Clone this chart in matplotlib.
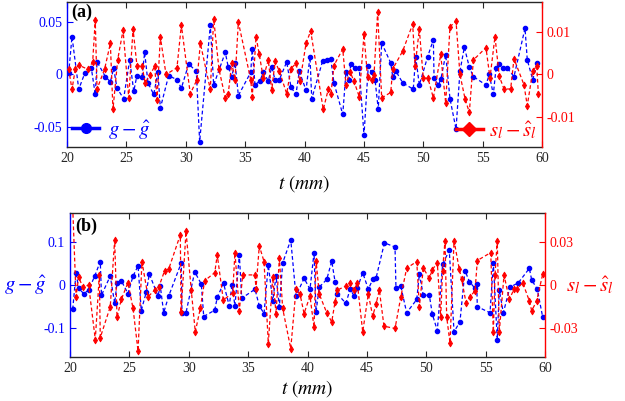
import matplotlib.pyplot as plt
from matplotlib.lines import Line2D

plt.rcParams['font.family'] = 'Liberation Serif'
plt.rcParams['mathtext.fontset'] = 'stix'

BLUE = '#0000ff'
RED = '#ff0000'

# ---- panel (a) : g - g_hat (left axis) ----
t_a_g = [20.14, 20.42, 20.99, 21.49, 22.05, 22.38, 22.53, 23.23, 23.65, 23.93,
         24.21, 24.77, 25.28, 25.62, 25.89, 26.32, 26.54, 26.82, 27.30, 27.66,
         27.86, 28.56, 29.26, 29.63, 30.25, 30.89, 31.17, 32.07, 32.35, 33.33,
         33.58, 33.87, 34.15, 34.43, 35.47, 35.60, 35.83, 36.25, 36.53, 36.95,
         37.24, 37.52, 37.88, 38.50, 38.86, 39.28, 39.56, 40.13, 40.46, 40.61,
         41.53, 41.87, 42.21, 42.48, 43.22, 43.49, 43.77, 43.89, 44.25, 44.61,
         45.01, 45.37, 45.66, 45.94, 46.21, 46.50, 47.26, 47.43, 47.71, 48.27,
         49.16, 49.36, 49.67, 50.37, 50.85, 50.91, 51.27, 51.49, 51.89, 52.25,
         52.76, 53.09, 53.46, 53.88, 54.22, 55.28, 55.56, 55.90, 56.13, 56.40,
         56.74, 57.08, 57.64, 58.57, 58.76, 59.22, 59.60]
g_a = [0.001, 0.036, -0.014, 0.001, 0.006, -0.019, 0.012, -0.002, -0.007, 0.006,
       -0.013, -0.023, 0.014, -0.016, -0.001, -0.002, 0.021, -0.008, -0.019, 0.002,
       -0.032, -0.001, -0.005, -0.013, 0.010, 0.003, -0.064, 0.047, -0.010, 0.021,
       0.007, -0.002, 0.011, -0.020, 0.002, 0.024, -0.010, -0.006, 0.002, -0.006,
       0.007, -0.005, -0.005, 0.012, -0.012, -0.019, 0.003, -0.015, 0.017, -0.023,
       0.013, 0.014, 0.015, -0.008, -0.038, 0.002, -0.005, 0.010, 0.006, 0.006,
       -0.058, 0.008, 0.002, -0.005, -0.033, 0.030, 0.011, -0.002, 0.003, -0.008,
       -0.014, 0.017, -0.010, 0.017, 0.033, -0.003, -0.010, -0.004, 0.019, -0.023,
       -0.052, 0.003, 0.026, 0.007, -0.002, -0.010, 0.000, -0.019, 0.006, 0.010,
       0.006, 0.006, -0.002, 0.044, 0.014, -0.005, 0.011]

# ---- panel (a) : s_l - s_l_hat (right axis) ----
t_a_s = [20.14, 20.42, 20.70, 20.99, 21.77, 22.16, 22.38, 22.53, 23.17, 23.65,
         23.87, 24.27, 24.72, 25.20, 25.56, 25.89, 26.32, 26.57, 26.99, 27.39,
         27.58, 27.86, 28.34, 29.26, 29.63, 30.38, 30.95, 31.23, 32.07, 32.35,
         32.80, 33.33, 33.58, 33.87, 34.15, 34.43, 35.47, 35.60, 35.92, 36.19,
         36.53, 36.95, 37.24, 37.52, 37.88, 38.50, 38.86, 39.28, 39.62, 40.13,
         40.52, 41.58, 42.00, 42.23, 42.48, 43.22, 43.49, 43.83, 44.17, 44.61,
         45.01, 45.31, 45.66, 45.85, 46.16, 46.50, 47.26, 47.43, 48.27, 49.11,
         49.31, 49.67, 50.00, 50.40, 50.85, 51.47, 51.89, 52.25, 52.76, 53.09,
         53.52, 53.88, 54.22, 55.28, 55.62, 56.04, 56.40, 56.80, 57.36, 57.64,
         58.48, 58.76, 59.22, 59.56, 59.69]
s_a = [0.0013, -0.0035, 0.0013, 0.0022, 0.0012, 0.0029, 0.0128, -0.0034, 0.0013, 0.0073,
       -0.0082, 0.0035, 0.0104, -0.0055, 0.0107, 0.0021, 0.0021, -0.0019, -0.0002, 0.0020,
       -0.0059, 0.0088, 0.0000, 0.0016, 0.0116, -0.0045, -0.0012, 0.0073, -0.0035, 0.0131,
       0.0012, -0.0055, -0.0045, 0.0027, -0.0012, 0.0123, -0.0012, -0.0052, 0.0089, 0.0047,
       -0.0008, 0.0034, -0.0037, 0.0031, 0.0008, -0.0045, 0.0014, 0.0026, -0.0016, 0.0073,
       0.0102, -0.0082, -0.0035, -0.0045, 0.0021, 0.0060, -0.0024, 0.0007, -0.0016, -0.0052,
       0.0094, -0.0007, -0.0012, -0.0002, 0.0146, -0.0055, -0.0042, 0.0013, 0.0055, 0.0118,
       0.0019, 0.0106, -0.0008, -0.0009, -0.0055, 0.0047, -0.0067, 0.0112, 0.0125, 0.0000,
       -0.0057, -0.0089, 0.0034, 0.0063, -0.0008, 0.0089, -0.0004, -0.0034, -0.0034, 0.0037,
       -0.0024, -0.0073, 0.0008, 0.0020, -0.0045]

# ---- panel (b) : g - g_hat ----
t_b_g = [20.23, 20.51, 20.73, 21.15, 21.57, 22.08, 22.55, 22.65, 23.39, 23.76,
         23.96, 24.32, 24.88, 25.31, 25.73, 26.00, 26.43, 26.68, 27.41, 27.60,
         27.89, 28.31, 29.37, 29.43, 29.77, 30.50, 31.06, 31.26, 32.19, 32.40,
         32.93, 33.41, 33.64, 33.89, 34.26, 34.46, 35.58, 35.94, 36.34, 36.70,
         37.07, 37.35, 37.63, 37.91, 38.59, 39.03, 39.71, 40.21, 40.55, 40.72,
         40.99, 41.62, 42.04, 42.32, 42.51, 43.24, 43.58, 43.94, 44.19, 44.65,
         45.12, 45.49, 45.77, 46.48, 47.37, 47.45, 47.85, 48.35, 49.20, 49.42,
         49.75, 50.26, 50.51, 50.93, 51.38, 51.94, 52.34, 52.84, 53.26, 53.63,
         54.11, 54.25, 54.30, 55.37, 55.65, 55.98, 56.15, 56.49, 57.05, 57.75,
         58.68, 58.88, 59.35, 59.81]
g_b = [-0.057, 0.029, -0.008, -0.020, -0.012, 0.021, 0.055, -0.024, 0.021, -0.043,
       0.005, 0.010, -0.020, 0.021, 0.045, -0.060, -0.016, 0.026, -0.026, -0.002,
       -0.065, -0.026, 0.052, -0.065, -0.065, 0.031, 0.002, -0.074, -0.059, -0.029,
       0.004, -0.049, 0.000, -0.049, 0.071, -0.031, -0.010, -0.049, -0.067, 0.047,
       -0.037, 0.021, -0.051, 0.052, 0.106, -0.026, 0.016, -0.010, 0.076, -0.063,
       -0.005, 0.013, 0.056, 0.008, -0.021, -0.043, -0.010, -0.026, -0.008, 0.029,
       -0.010, 0.013, 0.016, 0.099, 0.089, -0.008, -0.002, -0.065, -0.034, 0.026,
       -0.024, -0.024, -0.068, -0.107, 0.049, 0.081, -0.110, -0.086, 0.034, 0.008,
       -0.008, 0.002, -0.051, -0.065, 0.051, -0.128, -0.012, -0.065, -0.005, 0.005,
       0.039, 0.012, -0.010, -0.076]

# ---- panel (b) : s_l - s_l_hat ----
t_b_s = [20.21, 20.51, 20.73, 21.07, 21.57, 22.13, 22.47, 22.55, 23.39, 23.76,
         23.96, 24.32, 24.88, 25.31, 25.73, 26.06, 26.57, 27.13, 27.47, 27.97,
         28.31, 29.29, 29.35, 29.77, 30.21, 30.55, 30.97, 31.34, 32.19, 32.40,
         32.91, 33.70, 33.89, 34.26, 34.54, 35.58, 35.66, 35.94, 36.34, 36.70,
         37.07, 37.35, 37.63, 37.91, 38.59, 39.03, 39.37, 39.71, 40.21, 40.55,
         40.72, 40.99, 41.62, 42.04, 42.32, 42.51, 43.24, 43.58, 43.94, 44.19,
         44.65, 45.12, 45.49, 45.77, 46.05, 46.44, 47.37, 47.85, 48.35, 49.20,
         49.42, 49.75, 50.26, 50.51, 50.93, 51.22, 51.37, 51.58, 51.72, 52.00,
         52.34, 52.78, 52.98, 53.35, 53.68, 54.11, 54.30, 55.43, 55.65, 55.79,
         55.98, 56.15, 56.55, 56.99, 57.39, 57.62, 58.12, 58.68, 58.88, 59.30,
         59.81]
s_b = [0.058, -0.0082, 0.0058, -0.0016, 0.0000, -0.0379, 0.0070, -0.0365, -0.0151, 0.0314,
       -0.0225, -0.0100, 0.0016, -0.0163, -0.0459, 0.0163, -0.0082, -0.0035, -0.0016, 0.0100,
       0.0110, 0.0349, -0.0190, 0.0372, -0.0035, -0.0326, -0.0163, 0.0030, 0.0086, 0.0209,
       -0.0105, -0.0054, 0.0225, -0.0179, 0.0070, 0.0070, -0.0028, 0.0272, 0.0163, -0.0407,
       0.0054, -0.0198, 0.0186, -0.0163, -0.0442, -0.0030, -0.0063, -0.0198, -0.0077, -0.0295,
       0.0170, -0.0063, -0.0193, -0.0256, -0.0117, -0.0035, -0.0007, 0.0016, -0.0035, 0.0016,
       -0.0326, -0.0063, -0.0216, -0.0133, -0.0035, -0.0286, -0.0302, -0.0086, 0.0117, 0.0163,
       -0.0151, 0.0117, 0.0047, 0.0105, 0.0156, -0.0221, 0.0098, 0.0309, -0.0221, -0.0403,
       0.0309, 0.0110, 0.0040, -0.0124, -0.0082, -0.0040, 0.0170, 0.0225, -0.0326, 0.0070,
       0.0309, -0.0326, 0.0070, -0.0100, -0.0030, -0.0030, 0.0016, -0.0110, -0.0179, -0.0110,
       0.0077]

xticks = [20, 25, 30, 35, 40, 45, 50, 55, 60]
g_ticks_a = [-0.05, 0, 0.05]
g_labels_a = ['-0.05', '0', '0.05']
s_ticks_a = [-0.01, 0, 0.01]
s_labels_a = ['-0.01', '0', '0.01']
g_ticks_b = [-0.1, 0, 0.1]
g_labels_b = ['-0.1', '0', '0.1']
s_ticks_b = [-0.03, 0, 0.03]
s_labels_b = ['-0.03', '0', '0.03']


def style_pair(ax, ax2, pad):
    ax.set_xlim(20, 60)
    ax.set_xticks(xticks)
    ax.tick_params(axis='x', direction='in', top=True, length=4, labelsize=10, colors='#262626')
    ax.tick_params(axis='y', direction='in', length=4, labelsize=10, colors=BLUE)
    ax2.tick_params(axis='y', direction='in', length=4, labelsize=10, colors=RED)
    ax.spines['left'].set_color(BLUE)
    ax.spines['right'].set_visible(False)
    ax2.spines['left'].set_visible(False)
    ax2.spines['right'].set_color(RED)
    for sp in ('top', 'bottom'):
        ax.spines[sp].set_color('#262626')
        ax2.spines[sp].set_visible(False)
    for a in (ax, ax2):
        for sp in a.spines.values():
            sp.set_linewidth(1.0)
    ax.set_xlabel(r'$t\ (mm)$', fontsize=14, labelpad=pad)


def draw_series(ax, ax2, tg, g, ts, s):
    ax.plot(tg, g, '--', color=BLUE, lw=0.9, marker='o', ms=3, dashes=(3, 2))
    ax2.plot(ts, s, '--', color=RED, lw=0.9, marker='d', ms=3.5, mew=0.6, dashes=(3, 2))


fig = plt.figure(figsize=(6.25, 4.01), dpi=100)

# panel (a)
ax_a = fig.add_axes([67 / 625, 1 - 147 / 401, 475 / 625, 145 / 401])
ax_a2 = ax_a.twinx()
draw_series(ax_a, ax_a2, t_a_g, g_a, t_a_s, s_a)
ax_a.set_ylim(-0.069, 0.069)
ax_a2.set_ylim(-0.017, 0.017)
ax_a.set_yticks(g_ticks_a, g_labels_a)
ax_a2.set_yticks(s_ticks_a, s_labels_a)
style_pair(ax_a, ax_a2, 6)
ax_a.text(0.01, 0.985, '(a)', transform=ax_a.transAxes, fontsize=13,
          fontweight='bold', va='top', ha='left')
ax_a.legend([Line2D([], [], color=BLUE, lw=2.5, marker='o', ms=7)], [r'$g-\hat{g}$'],
            loc='lower left', frameon=False, fontsize=15, handlelength=1.3,
            handletextpad=0.4, borderaxespad=0.0, borderpad=0.25, labelcolor=BLUE)
ax_a2.legend([Line2D([], [], color=RED, lw=2.5, marker='D', ms=7)], [r'$s_l-\hat{s}_l$'],
             loc='lower right', frameon=False, fontsize=15, handlelength=1.3,
             handletextpad=0.3, borderaxespad=0.0, borderpad=0.25, labelcolor=RED)

# panel (b)
ax_b = fig.add_axes([70 / 625, 1 - 357 / 401, 475 / 625, 144 / 401])
ax_b2 = ax_b.twinx()
draw_series(ax_b, ax_b2, t_b_g, g_b, t_b_s, s_b)
ax_b.set_ylim(-0.169, 0.169)
ax_b2.set_ylim(-0.05, 0.05)
ax_b.set_yticks(g_ticks_b, g_labels_b)
ax_b2.set_yticks(s_ticks_b, s_labels_b)
style_pair(ax_b, ax_b2, 2)
ax_b.text(0.01, 0.97, '(b)', transform=ax_b.transAxes, fontsize=13,
          fontweight='bold', va='top', ha='left')
fig.text(25 / 625, 1 - 285 / 401, r'$g-\hat{g}$', color=BLUE, fontsize=15,
         ha='center', va='center')
fig.text(590 / 625, 1 - 285 / 401, r'$s_l-\hat{s}_l$', color=RED, fontsize=15,
         ha='center', va='center')

fig.savefig('out.png', dpi=100)
